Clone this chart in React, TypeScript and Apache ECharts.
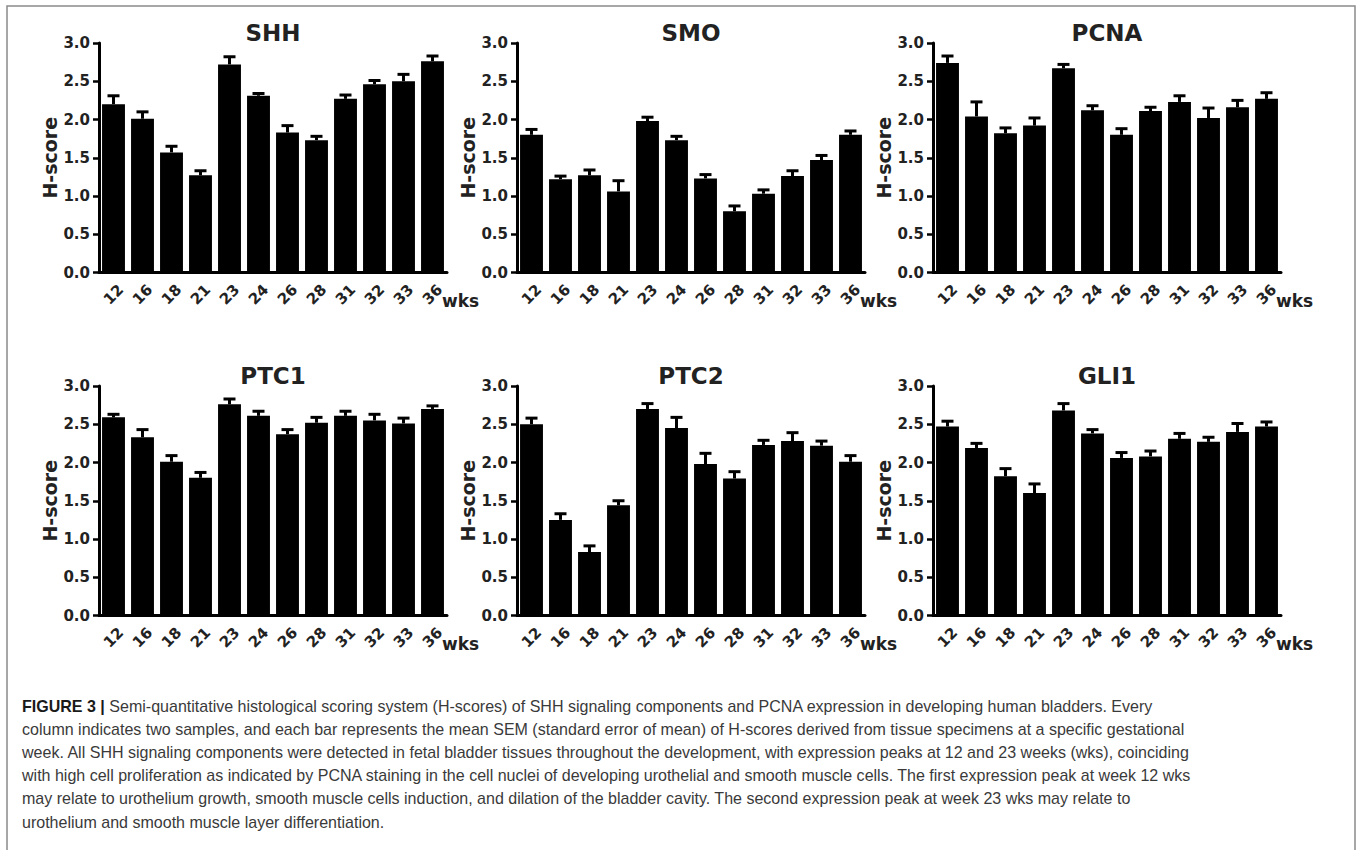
import React, { useEffect, useRef } from "react";
import * as echarts from "echarts";

const weeks = ["12", "16", "18", "21", "23", "24", "26", "28", "31", "32", "33", "36"];
const yTicks = [0, 0.5, 1, 1.5, 2, 2.5, 3];

const panelNames = ["SHH", "SMO", "PCNA", "PTC1", "PTC2", "GLI1"];

const shhMean = [2.2, 2.01, 1.57, 1.27, 2.72, 2.31, 1.83, 1.73, 2.27, 2.46, 2.5, 2.76];
const shhSem = [0.11, 0.09, 0.08, 0.06, 0.1, 0.03, 0.09, 0.05, 0.05, 0.05, 0.09, 0.07];
const smoMean = [1.8, 1.22, 1.27, 1.06, 1.98, 1.73, 1.23, 0.8, 1.03, 1.26, 1.47, 1.8];
const smoSem = [0.07, 0.04, 0.07, 0.14, 0.05, 0.05, 0.05, 0.07, 0.05, 0.07, 0.06, 0.05];
const pcnaMean = [2.74, 2.04, 1.82, 1.92, 2.67, 2.12, 1.8, 2.11, 2.23, 2.02, 2.16, 2.27];
const pcnaSem = [0.09, 0.19, 0.07, 0.1, 0.05, 0.06, 0.08, 0.05, 0.08, 0.13, 0.09, 0.08];
const ptc1Mean = [2.59, 2.33, 2.01, 1.8, 2.76, 2.61, 2.37, 2.52, 2.61, 2.55, 2.51, 2.7];
const ptc1Sem = [0.04, 0.1, 0.08, 0.07, 0.07, 0.06, 0.06, 0.07, 0.06, 0.08, 0.07, 0.04];
const ptc2Mean = [2.5, 1.25, 0.83, 1.44, 2.7, 2.45, 1.98, 1.79, 2.23, 2.28, 2.22, 2.01];
const ptc2Sem = [0.08, 0.08, 0.08, 0.06, 0.07, 0.14, 0.14, 0.09, 0.06, 0.11, 0.06, 0.08];
const gli1Mean = [2.47, 2.19, 1.82, 1.6, 2.68, 2.38, 2.06, 2.08, 2.31, 2.27, 2.4, 2.47];
const gli1Sem = [0.07, 0.06, 0.1, 0.12, 0.09, 0.05, 0.07, 0.07, 0.07, 0.06, 0.11, 0.06];

const means = [shhMean, smoMean, pcnaMean, ptc1Mean, ptc2Mean, gli1Mean];
const sems = [shhSem, smoSem, pcnaSem, ptc1Sem, ptc2Sem, gli1Sem];

const captionLead = "FIGURE 3 |";
const captionLines = [
  "Semi-quantitative histological scoring system (H-scores) of SHH signaling components and PCNA expression in developing human bladders. Every",
  "column indicates two samples, and each bar represents the mean SEM (standard error of mean) of H-scores derived from tissue specimens at a specific gestational",
  "week. All SHH signaling components were detected in fetal bladder tissues throughout the development, with expression peaks at 12 and 23 weeks (wks), coinciding",
  "with high cell proliferation as indicated by PCNA staining in the cell nuclei of developing urothelial and smooth muscle cells. The first expression peak at week 12 wks",
  "may relate to urothelium growth, smooth muscle cells induction, and dilation of the bladder cavity. The second expression peak at week 23 wks may relate to",
  "urothelium and smooth muscle layer differentiation.",
];

const FONT = "DejaVu Sans";
const CAPFONT = "Liberation Sans";

const gridLefts = [99, 517, 933];
const gridTops = [43, 386];
const gridW = 348;
const gridH = 229.5;

export default function App() {
  const ref = useRef<HTMLDivElement>(null);
  useEffect(() => {
    document.body.style.margin = "0";
    const chart = echarts.init(ref.current!, null, { renderer: "svg" });
    const grids: any[] = [];
    const xAxes: any[] = [];
    const yAxes: any[] = [];
    const titles: any[] = [];
    const series: any[] = [];
    const graphic: any[] = [
      {
        type: "rect",
        shape: { x: 7, y: 6, width: 1348, height: 900 },
        style: { fill: "none", stroke: "#8a8a8a", lineWidth: 1.5 },
        silent: true,
      },
    ];
    panelNames.forEach((name, i) => {
      const col = i % 3;
      const row = Math.floor(i / 3);
      grids.push({ left: gridLefts[col], top: gridTops[row], width: gridW, height: gridH });
      titles.push({
        text: name,
        left: gridLefts[col] + gridW / 2,
        top: row === 0 ? 21 : 364,
        textAlign: "center",
        padding: 0,
        textStyle: { fontFamily: FONT, fontWeight: "bold", fontSize: 23, color: "#222" },
      });
      graphic.push({
        type: "text",
        x: gridLefts[col] + gridW - 5,
        y: gridTops[row] + gridH + 28,
        style: {
          text: "wks",
          fontFamily: FONT,
          fontWeight: "bold",
          fontSize: 17,
          fill: "#222",
          align: "left",
          verticalAlign: "middle",
        },
      });
      xAxes.push({
        type: "category",
        gridIndex: i,
        data: weeks,
        boundaryGap: true,
        axisLine: { lineStyle: { color: "#000", width: 3 } },
        axisTick: { alignWithLabel: true, length: 7, lineStyle: { color: "#000", width: 2.5 } },
        axisLabel: {
          rotate: 45,
          align: "center",
          verticalAlign: "middle",
          margin: 22,
          fontFamily: FONT,
          fontWeight: "bold",
          fontSize: 15,
          color: "#222",
          interval: 0,
        },
        splitLine: { show: false },
      });
      yAxes.push({
        type: "value",
        gridIndex: i,
        min: yTicks[0],
        max: yTicks[yTicks.length - 1],
        interval: 0.5,
        name: "H-score",
        nameLocation: "middle",
        nameGap: 37,
        nameTextStyle: { fontFamily: FONT, fontWeight: "bold", fontSize: 19, color: "#222" },
        axisLine: { show: true, lineStyle: { color: "#000", width: 3 } },
        axisTick: { show: true, length: 6, lineStyle: { color: "#000", width: 2.5 } },
        axisLabel: {
          margin: 9,
          fontFamily: FONT,
          fontWeight: "bold",
          fontSize: 15,
          color: "#222",
          formatter: (v: number) => v.toFixed(1),
        },
        splitLine: { show: false },
      });
      series.push({
        type: "bar",
        xAxisIndex: i,
        yAxisIndex: i,
        data: means[i],
        barWidth: "79%",
        itemStyle: { color: "#000" },
        z: 2,
      });
      series.push({
        type: "custom",
        xAxisIndex: i,
        yAxisIndex: i,
        z: 3,
        data: means[i].map((m, k) => [k, m, m + sems[i][k]]),
        renderItem: (params: any, api: any) => {
          const p0 = api.coord([api.value(0), api.value(1)]);
          const p1 = api.coord([api.value(0), api.value(2)]);
          const hw = 6;
          return {
            type: "group",
            children: [
              { type: "line", shape: { x1: p0[0], y1: p0[1], x2: p1[0], y2: p1[1] }, style: { stroke: "#000", lineWidth: 3 } },
              { type: "line", shape: { x1: p1[0] - hw, y1: p1[1], x2: p1[0] + hw, y2: p1[1] }, style: { stroke: "#000", lineWidth: 3 } },
            ],
          };
        },
      });
    });

    // condensed caption: measure first line and squeeze horizontally to the reference width
    const capSize = 17;
    let scaleX = 0.86;
    try {
      const cv = document.createElement("canvas");
      const ctx = cv.getContext("2d");
      if (ctx) {
        ctx.font = `bold ${capSize}px '${CAPFONT}'`;
        const wLead = ctx.measureText(captionLead).width;
        ctx.font = `${capSize}px '${CAPFONT}'`;
        const wRest = ctx.measureText(" " + captionLines[0]).width;
        const total = wLead + wRest;
        if (total > 0) scaleX = 1132 / total;
      }
    } catch (e) {
      /* keep default */
    }
    captionLines.forEach((line, k) => {
      graphic.push({
        type: "text",
        x: 22,
        y: 706 + k * 23.2,
        scaleX,
        scaleY: 1,
        style: {
          text: k === 0 ? "{b|" + captionLead + "} " + line : line,
          fontFamily: CAPFONT,
          fontSize: capSize,
          fill: "#3a3a3a",
          verticalAlign: "middle",
          rich: {
            b: { fontFamily: CAPFONT, fontWeight: "bold", fontSize: capSize, fill: "#1a1a1a" },
          },
        },
      });
    });

    chart.setOption({
      animation: false,
      backgroundColor: "#fff",
      title: titles,
      grid: grids,
      xAxis: xAxes,
      yAxis: yAxes,
      series,
      graphic,
    });
    return () => chart.dispose();
  }, []);
  return <div ref={ref} style={{ width: 1357, height: 850 }} />;
}
